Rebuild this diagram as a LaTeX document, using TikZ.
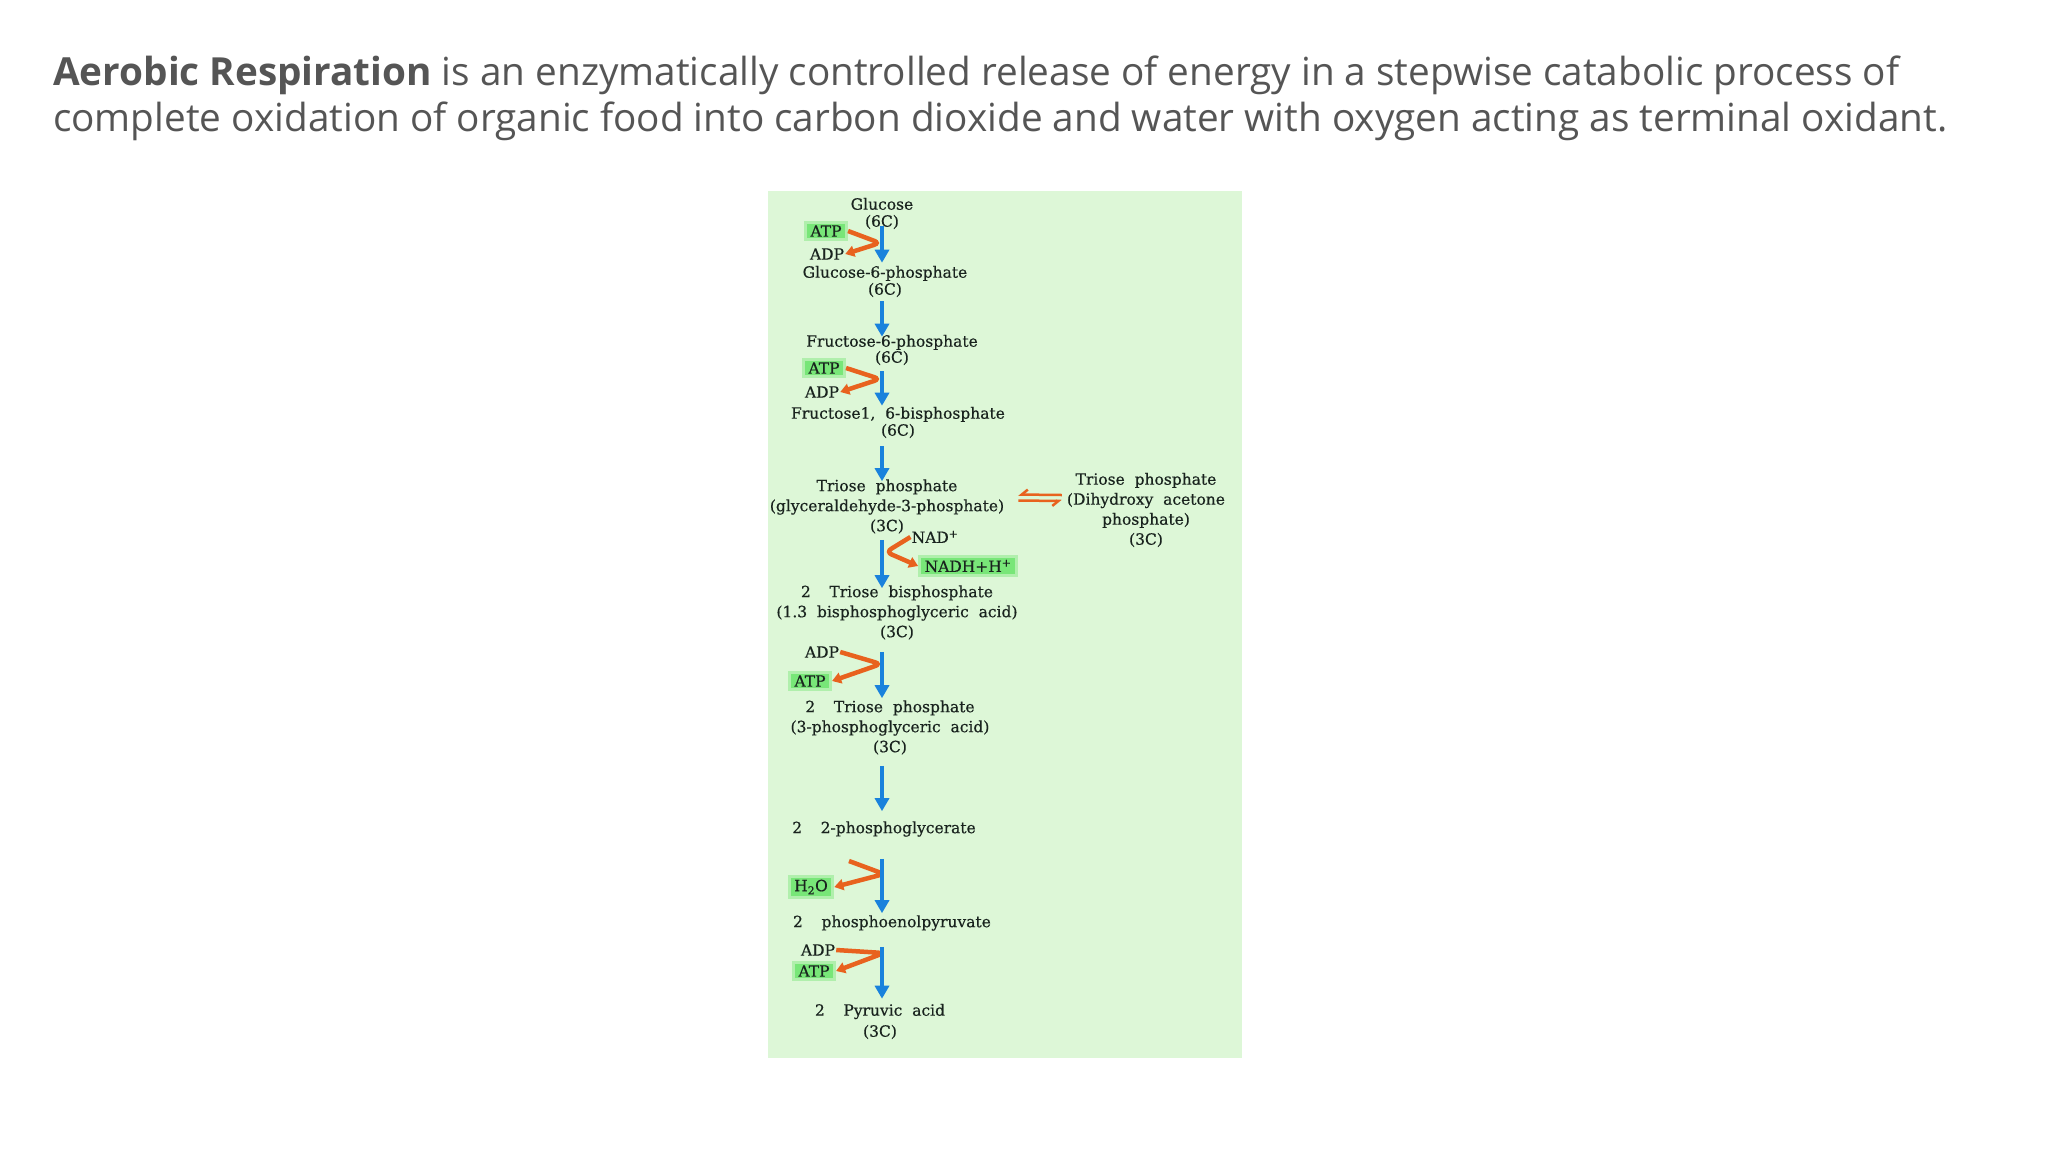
\documentclass[tikz,border=0pt]{standalone}
\usepackage{fontspec}
\setmainfont{Open Sans}
\newfontfamily\diagfont{DejaVu Serif}[FakeBold=0.5]
\usetikzlibrary{arrows.meta}
\definecolor{headgray}{RGB}{85,85,85}
\definecolor{panelgreen}{RGB}{221,247,215}
\definecolor{hlgreen}{RGB}{120,230,120}
\definecolor{flowblue}{RGB}{25,130,220}
\definecolor{rxnorange}{RGB}{232,98,30}
\definecolor{diagtext}{RGB}{25,35,30}

\tikzset{
  cpd/.style={font=\diagfont\fontsize{15.5}{20}\selectfont, text=diagtext, align=center, inner sep=1pt},
  hl/.style={cpd, fill=hlgreen, draw=hlgreen!45!panelgreen, line width=3pt, inner xsep=5pt, inner ysep=3pt},
  flow/.style={draw=flowblue, line width=4.5pt, -{Triangle[length=13pt,width=14pt]}},
  rxn/.style={draw=rxnorange, line width=4.5pt, rounded corners=6pt, -{Triangle[length=9pt,width=11pt]}},
  eqarrow/.style={draw=rxnorange, line width=2.5pt, -{Straight Barb[harpoon,swap,length=6pt,width=10pt]}}
}

\begin{document}
\begin{tikzpicture}[x=1pt,y=-1pt]
\useasboundingbox (0,0) rectangle (2048,1152);
\node[anchor=base west, inner sep=0, text=headgray, font=\fontsize{38.7}{46}\selectfont] (head1) at (53,85)
  {\textbf{Aerobic Respiration} is an enzymatically controlled release of energy in a stepwise catabolic process of};
\node[anchor=base west, inner sep=0, text=headgray, font=\fontsize{38.7}{46}\selectfont] (head2) at (53,131)
  {complete oxidation of organic food into carbon dioxide and water with oxygen acting as terminal oxidant.};

% glycolysis panel
\fill[panelgreen] (768,191) rectangle (1242,1058);
\coordinate (col) at (882,0);

\node[cpd, font=\diagfont\fontsize{15.5}{17}\selectfont] (glc) at (882,213.5) {Glucose\\(6C)};
\node[cpd, font=\diagfont\fontsize{15.5}{17}\selectfont] (g6p) at (885,281.5) {Glucose-6-phosphate\\(6C)};
\node[cpd, font=\diagfont\fontsize{15.5}{16}\selectfont] (f6p) at (892,350) {Fructose-6-phosphate\\(6C)};
\node[cpd, font=\diagfont\fontsize{15.5}{17}\selectfont] (fbp) at (898,422.5) {Fructose1,\ \ 6-bisphosphate\\(6C)};
\node[cpd] (g3p) at (887,506.5) {Triose\ \ phosphate\\(glyceraldehyde-3-phosphate)\\(3C)};
\node[cpd] (dhap) at (1146,510) {Triose\ \ phosphate\\(Dihydroxy\ \ acetone\\phosphate)\\(3C)};
\node[cpd] (bpg) at (897,612.5) {2\hspace{1.2em}Triose\ \ bisphosphate\\(1.3\ \ bisphosphoglyceric\ \ acid)\\(3C)};
\node[cpd] (pga) at (890,727.5) {2\hspace{1.2em}Triose\ \ phosphate\\(3-phosphoglyceric\ \ acid)\\(3C)};
\node[cpd] (pg2) at (884,829) {2\hspace{1.2em}2-phosphoglycerate};
\node[cpd] (pep) at (892,923) {2\hspace{1.2em}phosphoenolpyruvate};
\node[cpd, font=\diagfont\fontsize{15.5}{21}\selectfont] (pyr) at (880,1021.5) {2\hspace{1.2em}Pyruvic\ \ acid\\(3C)};

\node[hl] (atp1) at (826,231) {ATP};
\node[cpd] (adp1) at (827,254) {ADP};
\node[hl] (atp2) at (824,368) {ATP};
\node[cpd] (adp2) at (822,392) {ADP};
\node[cpd] (nad) at (935,537) {NAD\textsuperscript{+}};
\node[hl] (nadh) at (968,566) {NADH+H\textsuperscript{+}};
\node[cpd] (adp3) at (822,652) {ADP};
\node[hl] (atp3) at (810,681) {ATP};
\node[hl] (h2o) at (811,887) {H\textsubscript{2}O};
\node[cpd] (adp4) at (818,950) {ADP};
\node[hl] (atp4) at (814,971) {ATP};

\coordinate (t1) at (880,243);
\coordinate (t2) at (880,379);
\coordinate (t3) at (886,552);
\coordinate (t4) at (881,664);
\coordinate (t5) at (884,874);
\coordinate (t6) at (884,953);
\coordinate (h2oin) at (849,861);

% coupled reactions
\foreach \s/\t/\e in {atp1.east/t1/adp1.east, atp2.east/t2/adp2.east, nad.west/t3/nadh.west,
                      adp3.east/t4/atp3.east, h2oin/t5/h2o.east, adp4.east/t6/atp4.east}
  \draw[rxn] (\s) -- (\t) -- (\e);

% main pathway
\foreach \a/\b/\p/\q in {glc/g6p/-4/2, g6p/f6p/3/-3, f6p/fbp/5/0, fbp/g3p/7/-3, g3p/bpg/5/-4,
                         bpg/pga/11/1, pga/pg2/10/9, pg2/pep/21/1, pep/pyr/15/4}
  \draw[flow, shorten <=\p pt, shorten >=\q pt] (\a.south -| col) -- (\b.north -| col);

% isomerase equilibrium
\draw[eqarrow] ([xshift=-4pt,yshift=15pt]dhap.west) -- ([xshift=13pt,yshift=12pt]g3p.east);
\draw[eqarrow] ([xshift=13pt,yshift=6pt]g3p.east) -- ([xshift=-4pt,yshift=9pt]dhap.west);
\end{tikzpicture}
\end{document}
